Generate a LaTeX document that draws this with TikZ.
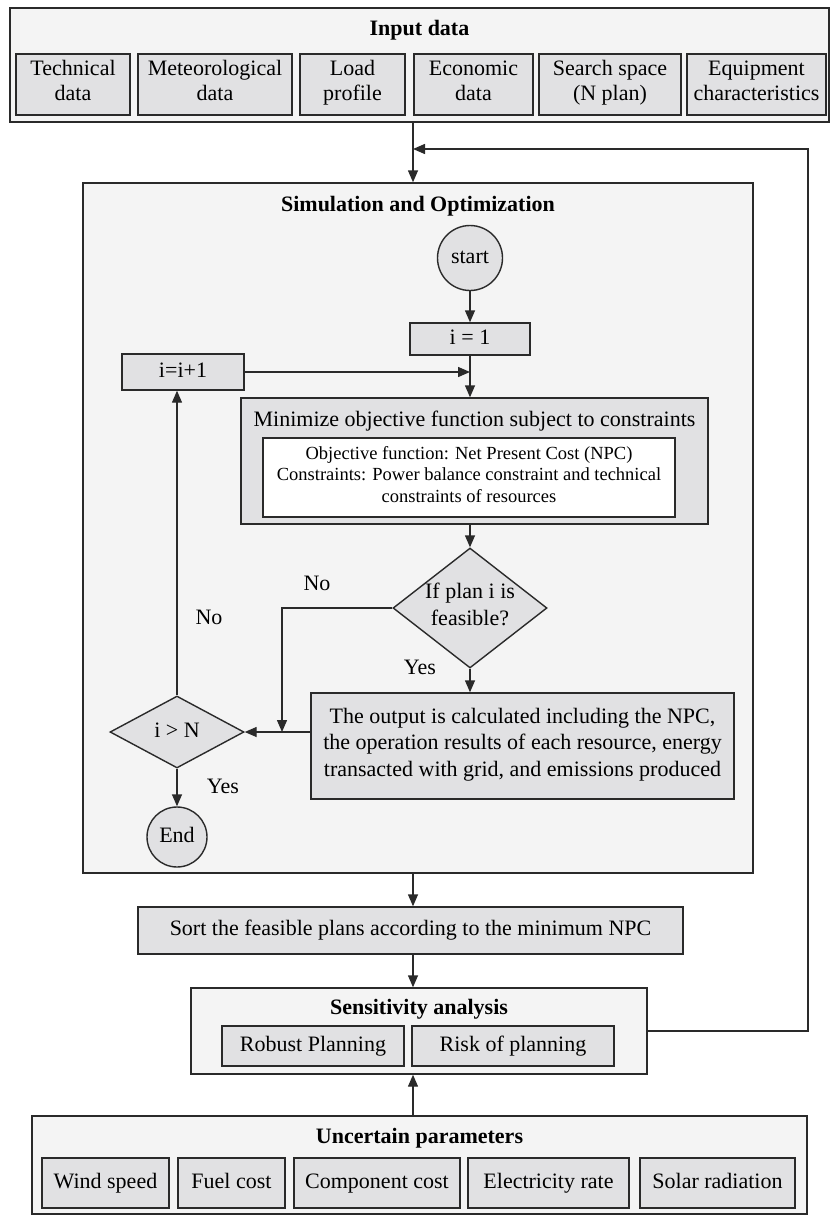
\documentclass[tikz,border=0pt]{standalone}
\usepackage{fontspec}
\setmainfont{Liberation Serif}
\usetikzlibrary{arrows.meta,shapes.geometric}
\definecolor{outerfill}{HTML}{F4F4F4}
\definecolor{subfill}{HTML}{E1E1E3}
\definecolor{edgecol}{HTML}{2A2A2A}
\newcommand{\sublast}[1]{\smash{#1}\rule[-2.5pt]{0pt}{2.5pt}}
\begin{document}
\begin{tikzpicture}[x=1pt,y=-1pt,
  every node/.style={font=\fontsize{22}{26.5}\selectfont, align=center, inner sep=0pt, text=black, execute at begin node=\strut},
  outerbox/.style={draw=edgecol, fill=outerfill, line width=1.4pt},
  subbox/.style={draw=edgecol, fill=subfill, line width=1.4pt},
  inputbox/.style={subbox, minimum height=61, font=\fontsize{22}{25}\selectfont},
  whitebox/.style={draw=edgecol, fill=white, line width=1.4pt, font=\fontsize{18.5}{21.5}\selectfont},
  titletext/.style={font=\fontsize{22}{26.5}\selectfont\bfseries},
  roundnode/.style={circle, draw=edgecol, fill=subfill, line width=1.4pt},
  decision/.style={diamond, draw=edgecol, fill=subfill, line width=1.4pt, inner sep=-6pt},
  arr/.style={draw=edgecol, line width=1.4pt, -{Triangle[length=12pt,width=10pt]}}
]
\useasboundingbox (0,0) rectangle (830,1215);

% ---------- Input data ----------
\node[outerbox, minimum width=819, minimum height=114] (input) at (419.5,65) {};
\node[titletext] (inputtitle) at (419.5,30) {Input data};
\node[inputbox, minimum width=114] (tech) at (73,84.5) {Technical\\\sublast{data}};
\node[inputbox, minimum width=154] (met) at (215,84.5) {Meteorological\\\sublast{data}};
\node[inputbox, minimum width=105] (load) at (352.5,84.5) {Load\\\sublast{profile}};
\node[inputbox, minimum width=119] (econ) at (473.5,84.5) {Economic\\\sublast{data}};
\node[inputbox, minimum width=142] (search) at (610,84.5) {Search space\\\sublast{(N plan)}};
\node[inputbox, minimum width=139] (equip) at (756.5,84.5) {Equipment\\\sublast{characteristics}};

\coordinate (spine) at (413,0);
\coordinate (fbc) at (808,149);

% ---------- Simulation and Optimization ----------
\node[outerbox, minimum width=670, minimum height=690] (sim) at (418,528) {};
\node[titletext] (simtitle) at (418,206) {Simulation and Optimization};

\node[roundnode, minimum size=65] (start) at (470,258) {start};
\node[subbox, minimum width=120, minimum height=32] (i1) at (470,339) {i = 1};
\node[subbox, minimum width=122, minimum height=36] (inc) at (183,372) {i=i+1};

\node[subbox, minimum width=467, minimum height=126] (min) at (474.5,461) {};
\node (mintitle) at (474.5,421) {Minimize objective function subject to constraints};
\node[whitebox, minimum width=412, minimum height=79] (inner) at (469,477.5)
  {Objective function: Net Present Cost (NPC)\\Constraints: Power balance constraint and technical\\constraints of resources\strut};

\node[decision, minimum width=154, minimum height=120] (feas) at (470,608) {If plan i is\\feasible?\strut};
\node[subbox, minimum width=423, minimum height=106] (out) at (522.5,746)
  {The output is calculated including the NPC,\\the operation results of each resource, energy\\transacted with grid, and emissions produced\strut};
\node[decision, minimum width=134, minimum height=72] (dN) at (177,732) {i > N};
\node[roundnode, minimum size=60] (endn) at (177,837) {End};

\coordinate (njoin) at (282,732);

\node (no1) at (317,585) {No};
\node (no2) at (209,619) {No};
\node (yes1) at (420,669) {Yes};
\node (yes2) at (223,788) {Yes};

% ---------- lower part ----------
\node[subbox, minimum width=545, minimum height=47] (sortb) at (410.5,930.5) {Sort the feasible plans according to the minimum NPC};

\node[outerbox, minimum width=456, minimum height=86] (sens) at (419,1031) {};
\node[titletext] (senstitle) at (419,1009) {Sensitivity analysis};
\node[subbox, minimum width=182, minimum height=40] (robust) at (313,1046) {Robust Planning};
\node[subbox, minimum width=202, minimum height=40] (risk) at (513,1046) {Risk of planning};

\node[outerbox, minimum width=775, minimum height=98] (unc) at (419.5,1165) {};
\node[titletext] (unctitle) at (419.5,1138) {Uncertain parameters};
\node[subbox, minimum width=127, minimum height=50] (wind) at (105.5,1183) {Wind speed};
\node[subbox, minimum width=107, minimum height=50] (fuel) at (231.5,1183) {Fuel cost};
\node[subbox, minimum width=166, minimum height=50] (comp) at (377,1183) {Component cost};
\node[subbox, minimum width=161, minimum height=50] (elec) at (548.5,1183) {Electricity rate};
\node[subbox, minimum width=155, minimum height=50] (solar) at (717.5,1183) {Solar radiation};

% ---------- connectors ----------
\draw[arr] (input.south -| spine) -- (sim.north -| spine);
\draw[arr] (sens.east) -| (fbc) -- (fbc -| spine);
\draw[arr] (start.south) -- (i1.north);
\draw[arr] (i1.south) -- (i1.south |- min.north);
\draw[arr] (inc.east) -- (inc.east -| i1.south);
\draw[arr] (min.south -| feas.north) -- (feas.north);
\draw[arr] (feas.south) -- (feas.south |- out.north);
\draw[arr] (feas.west) -| (njoin);
\draw[arr] (out.west |- dN.east) -- (dN.east);
\draw[arr] (dN.north) -- (dN.north |- inc.south);
\draw[arr] (dN.south) -- (endn.north);
\draw[arr] (sim.south -| spine) -- (sortb.north -| spine);
\draw[arr] (sortb.south -| spine) -- (sens.north -| spine);
\draw[arr] (unc.north -| spine) -- (sens.south -| spine);
\end{tikzpicture}
\end{document}
